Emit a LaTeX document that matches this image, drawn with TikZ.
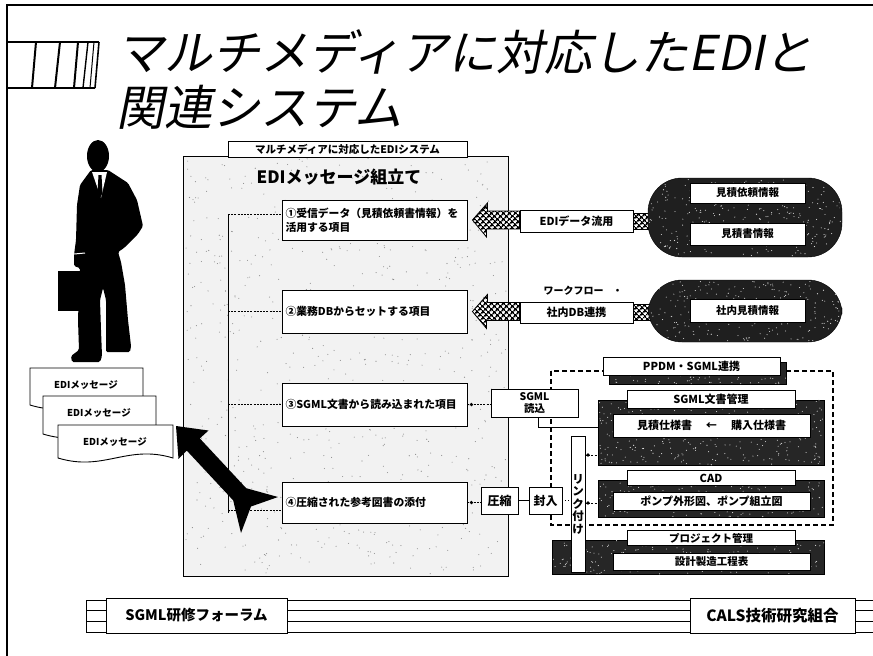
\documentclass[tikz,border=0pt]{standalone}
\usepackage{fontspec}
\setmainfont{Noto Sans CJK JP}
\newfontfamily\titlefont[FakeSlant=0.2]{Noto Sans CJK JP}
\usetikzlibrary{calc,patterns.meta}
% scatter #5 small dots of style #6 over the rectangle at (#1,#2) of size #3 x #4
\newcommand{\speckfield}[6]{%
  \foreach \k in {1,...,#5}{\fill[#6] ({#1+(#3)*rnd},{#2+(#4)*rnd}) circle (0.55pt);}}
\begin{document}
\begin{tikzpicture}[x=1pt,y=-1pt,
  box/.style={draw, fill=white, line width=0.9pt, inner sep=0pt,
    font=\fontsize{11}{13}\selectfont\bfseries},
  itembox/.style={box, text width=178pt, align=left, inner xsep=3.5pt,
    font=\fontsize{10.8}{14}\selectfont\bfseries},
  panel/.style={draw, fill=black!85, line width=0.6pt, inner sep=0pt},
  dbshape/.style={draw, fill=black!88, rounded corners=34pt, inner sep=0pt},
  checker/.style={pattern={Hatch[angle=45,distance=4pt,line width=1.7pt]}},
  link/.style={line width=0.7pt, dash pattern=on 2pt off 1.2pt},
  joint/.style={circle, fill=black, inner sep=0pt, minimum size=3.6pt},
  docpage/.style={draw, fill=white, line width=0.9pt},
]
\pgfmathsetseed{4711}
\useasboundingbox (0,0) rectangle (873,656);

% page frame
\draw[line width=1.2pt] (7,656) -- (7,5) -- (873,5);

% heading with its striped mark
\draw[line width=1.1pt] (7,42) -- (99,42);
\draw[line width=1.1pt] (7,88) -- (95,88);
\draw[line width=2pt] (36,42) -- (32,88) (60,42) -- (55,88) (78,42) -- (74,88);
\draw[line width=1.4pt] (88,42) -- (83,88);
\draw[line width=1pt] (94,42) -- (90,88);
\draw[line width=1.6pt] (99,42) -- (95,88);
\node[anchor=west, inner sep=0pt, font=\titlefont\fontsize{48}{48}\selectfont] (title1) at (116,52) {マルチメディアに対応したEDIと};
\node[anchor=west, inner sep=0pt, font=\titlefont\fontsize{48}{48}\selectfont] (title2) at (116,107) {関連システム};

% business man
\fill (98,156) ellipse [x radius=11pt, y radius=16pt];
\fill[rounded corners=1.5pt] (91,170) -- (80,185) -- (77,205) -- (76,240) -- (74,255) -- (74,266)
  -- (80,268) -- (79,290) -- (78,320) -- (79,350) -- (71,356) -- (72,362) -- (100,362) -- (102,356)
  -- (101,330) -- (100,300) -- (103,288) -- (106,300) -- (106,330) -- (106,352) -- (130,352)
  -- (131,346) -- (128,320) -- (125,285) -- (121,262) -- (118,252) -- (124,248) -- (138,234)
  -- (143,226) -- (137,200) -- (128,183) -- (108,170) -- cycle;
\fill[white] (92,172) -- (107,172) -- (101,198) -- cycle;
\fill (98.5,175) -- (101.5,175) -- (102.5,193) -- (100,198) -- (97.5,193) -- cycle;
\draw[white, line width=1pt] (74,254) -- (85,253);
\fill (58,271) rectangle (89,311);

% stacked EDI messages
\draw[docpage] (30,368) -- (143,368) -- (143,405) .. controls (98,391) and (75,419) .. (30,405) -- cycle;
\node[font=\fontsize{9.5}{11}\selectfont\bfseries] (msg1) at (86,385) {EDIメッセージ};
\draw[docpage] (43,396) -- (156,396) -- (156,434) .. controls (111,420) and (88,448) .. (43,434) -- cycle;
\node[font=\fontsize{9.5}{11}\selectfont\bfseries] (msg2) at (99,413) {EDIメッセージ};
\draw[docpage] (58,425) -- (173,425) -- (173,458) .. controls (127,444) and (104,472) .. (58,458) -- cycle;
\node[font=\fontsize{9.5}{11}\selectfont\bfseries] (msg3) at (115,442) {EDIメッセージ};

% EDI message assembly
\node[draw, fill=black!5, line width=1pt, minimum width=325pt, minimum height=420pt, inner sep=0pt] (main) at (345.5,366) {};
\speckfield{185}{158}{321}{416}{700}{black!45}
\node[box, minimum width=239pt, minimum height=16pt, font=\fontsize{10.5}{12}\selectfont\bfseries] (mainlabel) at (347.5,149) {マルチメディアに対応したEDIシステム};
\node[font=\fontsize{17}{20}\selectfont\bfseries] (assemble) at (339,177) {EDIメッセージ組立て};

\node[itembox, minimum height=40pt] (it1) at (374.5,220) {①受信データ（見積依頼書情報）を\\活用する項目};
\node[itembox, minimum height=43pt] (it2) at (374.5,311.5) {②業務DBからセットする項目};
\node[itembox, minimum height=43pt] (it3) at (374.5,404.5) {③SGML文書から読み込まれた項目};
\node[itembox, minimum height=41pt] (it4) at (374.5,502.5) {④圧縮された参考図書の添付};

\coordinate (sp1) at (228,214);
\coordinate (sp4) at (228,510);
\draw[line width=0.9pt] (sp1) -- ($(sp4)+(0,3)$);
\draw[link] (sp1) -- (sp1 -| it1.west);
\draw[link] (sp1 |- it2.west) -- (it2.west);
\draw[link] (sp1 |- it3.west) -- (it3.west);
\draw[link] (sp4) -- (sp4 -| it4.west);

% outgoing message arrow
\fill (176,426) -- (208.5,430.5) -- (199.8,438.4) -- (246.2,488.2) -- (278,497) -- (251,506.5)
  -- (241,533) -- (233.2,500.4) -- (186.8,450.6) -- (178.5,459) -- cycle;

% databases
\node[box, minimum width=113pt, minimum height=22pt] (ediuse) at (576.5,221) {EDIデータ流用};
\node[box, minimum width=113pt, minimum height=21pt] (dblink) at (576.5,312.5) {社内DB連携};
\node[font=\fontsize{10}{12}\selectfont\bfseries] (workflow) at (583,291) {ワークフロー\hspace{9pt}・};

\draw[line width=0.8pt, fill=white, postaction={checker}] ($(ediuse.east)+(0,-8)$) rectangle ($(ediuse.east)+(19,8)$);
\draw[line width=0.8pt, fill=white, postaction={checker}] ($(dblink.east)+(0,-8)$) rectangle ($(dblink.east)+(19,8)$);

\node[dbshape, minimum width=194pt, minimum height=79pt] (db1) at (745,217.5) {};
\node[dbshape, minimum width=194pt, minimum height=62pt] (db2) at (745,311) {};
\begin{scope}
  \clip[rounded corners=34pt] (649,179) rectangle (841,256);
  \speckfield{649}{179}{192}{77}{320}{white!85!black}
\end{scope}
\begin{scope}
  \clip[rounded corners=30pt] (649,281) rectangle (841,341);
  \speckfield{649}{281}{192}{60}{250}{white!85!black}
\end{scope}
\node[box, minimum width=115pt, minimum height=20pt, font=\fontsize{10.5}{12}\selectfont\bfseries] (estreq) at (747.5,193) {見積依頼情報};
\node[box, minimum width=115pt, minimum height=22pt, font=\fontsize{10.5}{12}\selectfont\bfseries] (estdoc) at (747.5,234) {見積書情報};
\node[box, minimum width=115pt, minimum height=23pt, font=\fontsize{10.5}{12}\selectfont\bfseries] (inhouse) at (747.5,310.5) {社内見積情報};

\draw[line width=0.8pt, fill=white, postaction={checker}] ($(it1.east)+(5,0)$) -- ++(15,-17) -- ++(0,8)
  -- (ediuse.west |- 0,211) -- (ediuse.west |- 0,229) -- ++(-33,0) -- ++(0,8) -- cycle;
\draw[line width=0.8pt, fill=white, postaction={checker}] ($(it2.east)+(5,0)$) -- ++(15,-17) -- ++(0,8)
  -- (dblink.west |- 0,302.5) -- (dblink.west |- 0,320.5) -- ++(-33,0) -- ++(0,8) -- cycle;

% SGML related systems
\draw[line width=1.2pt, dash pattern=on 5pt off 3pt] (551,371) rectangle (833,525);
\node[panel, minimum width=177pt, minimum height=22pt] (ppdmshade) at (697.5,373) {};
\speckfield{609}{375}{177}{9}{45}{white!85!black}
\node[box, minimum width=177pt, minimum height=18pt] (ppdm) at (691.5,366) {PPDM・SGML連携};

\node[panel, minimum width=226pt, minimum height=65pt] (p1) at (711,432.5) {};
\speckfield{598}{400}{226}{65}{330}{white!85!black}
\node[box, minimum width=168pt, minimum height=18pt] (sgmlmgmt) at (711,399) {SGML文書管理};
\node[box, minimum width=197pt, minimum height=23pt] (spec) at (711.5,425.5) {見積仕様書\hspace{14pt}←\hspace{14pt}購入仕様書};

\node[panel, minimum width=226pt, minimum height=37pt] (p2) at (711,498.5) {};
\speckfield{598}{480}{226}{37}{190}{white!85!black}
\node[box, minimum width=168pt, minimum height=15pt] (cad) at (711,478) {CAD};
\node[box, minimum width=197pt, minimum height=18pt] (pump) at (711.5,501) {ポンプ外形図、ポンプ組立図};

\node[panel, minimum width=272pt, minimum height=34pt] (p3) at (688,557) {};
\speckfield{552}{540}{272}{34}{210}{white!85!black}
\node[box, minimum width=168pt, minimum height=15pt, font=\fontsize{10.5}{12}\selectfont\bfseries] (proj) at (711,538) {プロジェクト管理};
\node[box, minimum width=197pt, minimum height=17pt, font=\fontsize{10.5}{12}\selectfont\bfseries] (sched) at (711.5,562) {設計製造工程表};

\node[box, minimum width=87pt, minimum height=28pt, align=center, font=\fontsize{10.5}{12}\selectfont\bfseries] (sgmlread) at (534.5,403) {SGML\\読込};
\node[box, minimum width=37pt, minimum height=27pt, font=\fontsize{12}{14}\selectfont\bfseries] (press) at (499.5,500.5) {圧縮};
\node[box, minimum width=33pt, minimum height=27pt, font=\fontsize{12}{14}\selectfont\bfseries] (seal) at (545.5,500.5) {封入};
\node[box, minimum width=14pt, minimum height=136pt, align=center, font=\fontsize{11.5}{12.5}\selectfont\bfseries] (linkbox) at (578,504) {リ\\ン\\ク\\付\\け};

% connectors
\draw[link] (it3.east) -- (it3.east -| sgmlread.west);
\node[joint] (j3) at ($(it3.east)+(4,0)$) {};
\draw[link] (it4.east) -- (it4.east -| press.west);
\node[joint] (j4) at ($(it4.east)+(4,0)$) {};
\draw[line width=0.7pt] (press.east) -- (seal.west);
\draw[line width=0.8pt, dotted] (seal.east) -- (seal.east -| linkbox.west);
\coordinate (sgx) at (538,427);
\draw[line width=0.7pt] (sgmlread.south -| sgx) |- (p1.west |- sgx);
\coordinate (lk1) at (585,455);
\coordinate (lk2) at (585,503);
\draw[link] (lk1) -- (lk1 -| p1.west);
\draw[link] (lk2) -- (lk2 -| p2.west);
\node[joint] (jl1) at ($(lk1)+(3,0)$) {};
\node[joint] (jl2) at ($(lk2)+(3,0)$) {};

% forum bar
\foreach \ya/\yb in {600/610.5, 610.5/621, 621/632}
  \draw[line width=0.8pt, fill=white] (86,\ya) rectangle (873,\yb);
\node[box, minimum width=181pt, minimum height=35pt, font=\fontsize{14.5}{16}\selectfont\bfseries] (forum) at (196.5,615.5) {SGML研修フォーラム};
\node[box, minimum width=165pt, minimum height=35pt, font=\fontsize{15.5}{17}\selectfont\bfseries] (cals) at (772.5,615.5) {CALS技術研究組合};
\end{tikzpicture}
\end{document}
